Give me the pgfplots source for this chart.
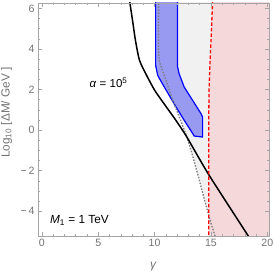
\documentclass[border=0pt]{standalone}
\usepackage{fontspec}
\setmainfont{Liberation Sans}
\usepackage{pgfplots}
\pgfplotsset{compat=1.18}
\definecolor{framegray}{RGB}{165,165,165}
\definecolor{labgray}{RGB}{115,115,115}
\definecolor{pinkfill}{RGB}{245,216,218}
\definecolor{grayfill}{RGB}{241,241,241}
\definecolor{bluefill}{RGB}{152,154,242}
\definecolor{dotgray}{RGB}{125,125,125}
\begin{document}
\begin{tikzpicture}
\begin{axis}[
  scale only axis,
  width=231pt, height=233pt,
  xmin=-0.35, xmax=20.15,
  ymin=-5.22, ymax=6.27,
  axis on top,
  axis line style={framegray, line width=0.6pt},
  tick align=inside,
  xtick={0,5,10,15,20},
  ytick={-4,-2,0,2,4,6},
  yticklabels={−\,4,−\,2,0,2,4,6},
  minor x tick num=4,
  minor y tick num=3,
  major tick length=4pt,
  minor tick length=2.2pt,
  every tick/.style={framegray, line width=0.5pt},
  tick label style={font=\fontsize{10.6}{12}\selectfont, text=labgray},
  /pgf/number format/assume math mode=true,
  xlabel={\textit{γ}},
  ylabel={Log\textsubscript{10} [ΔM/ GeV ]},
  xlabel style={at={(axis description cs:0.5,-0.133)}, anchor=center, font=\fontsize{12}{14}\selectfont, text=labgray},
  ylabel style={at={(axis description cs:-0.136,0.53)}, anchor=center, font=\fontsize{11.8}{14}\selectfont, text=labgray},
]
% pink excluded region
\addplot[fill=pinkfill, draw=none] coordinates {
  (15.15,6.4) (15.0,4.4) (14.9,3.1) (14.83,2.0) (14.8,0.5) (14.8,-5.4)
  (20.3,-5.4) (20.3,6.4)
} -- cycle;
% light gray region
\addplot[fill=grayfill, draw=none] coordinates {
  (10.36,6.4) (10.36,3.69) (10.63,3.05) (11.07,2.36) (11.61,1.47) (12.23,0.59)
  (12.77,-0.20) (13.30,-1.13) (13.84,-2.21) (14.38,-3.34) (14.8,-4.2)
  (14.8,0.5) (14.83,2.0) (14.9,3.1) (15.0,4.4) (15.15,6.4)
} -- cycle;
% blue region
\addplot[fill=bluefill, draw=blue, line width=1.2pt, line join=round] coordinates {
  (10.09,6.5) (10.09,3.19) (10.27,2.70) (10.69,2.29) (11.72,1.31) (12.62,0.49)
  (13.37,-0.16) (13.51,-0.29) (14.26,-0.34) (14.26,0.65) (14.11,0.82)
  (13.37,1.47) (12.62,2.13) (12.17,2.79) (12.03,3.14) (12.03,6.5)
} -- cycle;
% gray dotted line
\addplot[color=dotgray, line width=1.3pt, dash pattern=on 1.5pt off 1.5pt, smooth, tension=0.4] coordinates {
  (10.36,6.4) (10.36,3.69) (10.63,3.05) (11.07,2.36) (11.61,1.47) (12.23,0.59)
  (12.77,-0.20) (13.30,-1.13) (13.84,-2.21) (14.38,-3.34) (14.91,-4.42) (15.36,-5.21) (15.45,-5.4)
};
% black curve alpha = 10^5
\addplot[color=black, line width=1.5pt, smooth, tension=0.4] coordinates {
  (7.77,6.4) (8.04,5.41) (8.30,4.42) (8.66,3.44) (9.29,2.70) (10.0,1.97)
  (10.80,1.33) (11.88,0.49) (12.86,-0.34) (14.82,-2.21) (18.30,-5.21) (18.5,-5.4)
};
% red dashed boundary
\addplot[color=red, line width=1.3pt, dash pattern=on 3.5pt off 2pt] coordinates {
  (15.15,6.4) (15.0,4.4) (14.9,3.1) (14.83,2.0) (14.8,0.5) (14.8,-5.4)
};
\node[font=\fontsize{11.5}{13}\selectfont, anchor=center] at (axis cs:5.91,2.32) {\textit{α} = 10\textsuperscript{5}};
\node[font=\fontsize{11.8}{13}\selectfont, anchor=west, inner sep=0pt] at (axis cs:0.71,-4.45) {\textit{M}\textsubscript{1} = 1 TeV};
\end{axis}
\pgfresetboundingbox
\path ([shift={(-38pt,-37pt)}]current axis.south west) rectangle ([shift={(5pt,3pt)}]current axis.north east);
\end{tikzpicture}
\end{document}
